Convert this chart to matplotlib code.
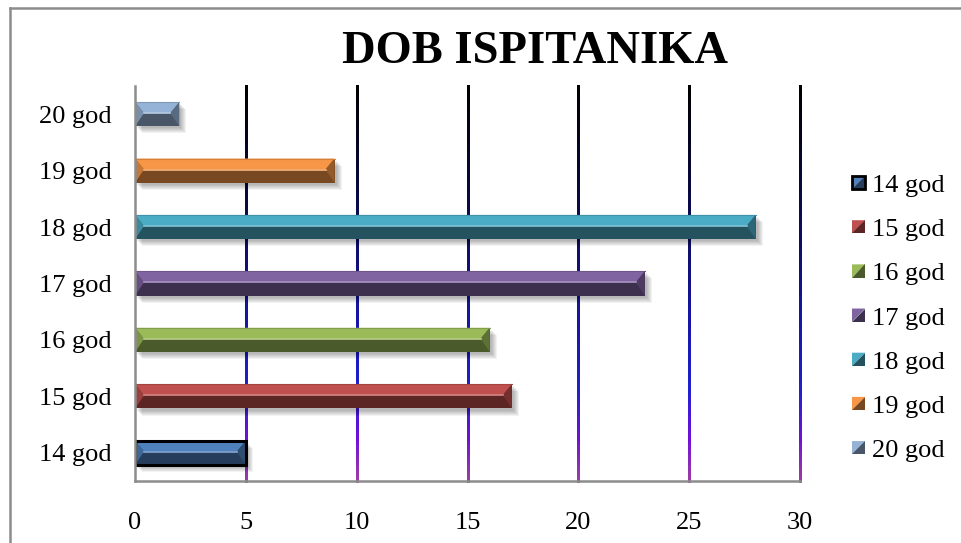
import numpy as np
import matplotlib
matplotlib.use('Agg')
import matplotlib.pyplot as plt
from matplotlib.collections import LineCollection
from matplotlib.patches import Polygon, Rectangle
from matplotlib.legend_handler import HandlerBase
from matplotlib.lines import Line2D
from matplotlib.colors import to_rgb

# Podaci
kategorije = ['14 god', '15 god', '16 god', '17 god', '18 god', '19 god', '20 god']
vrijednosti = [5, 17, 16, 23, 28, 9, 2]
boje = ['#4F81BD', '#C0504D', '#9BBB59', '#8064A2', '#4BACC6', '#F79646', '#95B3D7']
x_ticks = [0, 5, 10, 15, 20, 25, 30]
naslov = 'DOB ISPITANIKA'

plt.rcParams['font.family'] = ['Liberation Serif', 'DejaVu Serif']


def shade(c, f):
    r, g, b = to_rgb(c)
    return (r * f, g * f, b * f)


def lighten(c, f):
    r, g, b = to_rgb(c)
    return (r + (1 - r) * f, g + (1 - g) * f, b + (1 - b) * f)


W, H = 961, 543
fig = plt.figure(figsize=(W / 100, H / 100), dpi=100)
fig.patch.set_facecolor('white')

# okvir grafikona
fig.add_artist(Line2D([9.5 / W, 1.0], [1 - 7.5 / H, 1 - 7.5 / H], color='#8c8c8c', lw=1.8))
fig.add_artist(Line2D([9.5 / W, 9.5 / W], [0, 1 - 7.5 / H], color='#8c8c8c', lw=1.8))

left, right, top, bottom = 135, 800, 86, 481
ax = fig.add_axes([left / W, 1 - bottom / H, (right - left) / W, (bottom - top) / H])
ax.set_xlim(0, 30)
ax.set_ylim(-0.5, 6.5)

# mreza s prijelazom boja (crna -> plava -> ljubicasta)
stops = [(0.0, '#000000'), (0.35, '#0b0b55'), (0.6, '#1616a8'), (0.78, '#2020d0'),
         (0.9, '#7010d8'), (1.0, '#9a3aa8')]
n = 80
ys = np.linspace(6.5, -0.5, n + 1)
fr = np.linspace(0, 1, n)
pos = [s[0] for s in stops]
cols = np.array([to_rgb(s[1]) for s in stops])
seg_cols = np.stack([np.interp(fr, pos, cols[:, k]) for k in range(3)], axis=1)
for xv in x_ticks[1:]:
    segs = [[(xv, ys[i]), (xv, ys[i + 1])] for i in range(n)]
    lc = LineCollection(segs, colors=seg_cols, linewidths=2.0, zorder=1,
                        capstyle='projecting', antialiaseds=False)
    lc.set_clip_on(False)
    ax.add_collection(lc)

# stupci s efektom kosine
h = 0.43
px = 30 / (right - left)
bev = 9 * px
ypos = np.arange(len(kategorije))
for i, (v, c) in enumerate(zip(vrijednosti, boje)):
    y0, y1 = i - h / 2, i + h / 2
    ym = i + 0.02
    # sjena
    for k in range(6):
        off = (2 + k) * px
        ax.add_patch(Rectangle((off, y0 - (2 + k) * 0.018), v, h, color='black',
                               alpha=0.05, lw=0, zorder=2))
    ax.barh(i, v, height=h, color=shade(c, 0.48), lw=0, zorder=3)
    ax.add_patch(Polygon([(0, y1), (v, y1), (v - bev, ym), (bev, ym)],
                         closed=True, color=c, lw=0, zorder=4))
    ax.add_patch(Polygon([(0, y1), (bev, ym), (0, y0)], closed=True,
                         color=shade(c, 0.8), lw=0, zorder=4))
    ax.add_patch(Polygon([(v, y1), (v, y0), (v - bev, ym)], closed=True,
                         color=shade(c, 0.6), lw=0, zorder=4))
    ax.plot([bev, v - bev], [ym, ym], color=lighten(c, 0.3), lw=1.2, zorder=5)
    ax.plot([0, v], [y1, y1], color=shade(c, 0.85), lw=0.8, zorder=5)
    if i == 0:
        ax.add_patch(Rectangle((0, y0), v, h, fill=False, ec='black', lw=2.2, zorder=6))

ax.set_yticks(ypos)
ax.set_yticklabels(kategorije, fontsize=19)
ax.set_xticks(x_ticks)
ax.set_xticklabels([str(t) for t in x_ticks], fontsize=19)
ax.tick_params(axis='y', length=0, pad=17)
ax.tick_params(axis='x', length=0, pad=22)
for s in ['top', 'right']:
    ax.spines[s].set_visible(False)
for s in ['left', 'bottom']:
    ax.spines[s].set_color('#8c8c8c')
    ax.spines[s].set_linewidth(1.8)
    ax.spines[s].set_zorder(7)
ax.set_facecolor('none')

fig.text(535 / W, 1 - 52 / H, naslov, fontsize=33.5, fontweight='bold',
         ha='center', va='center')


class LegendKey(dict):
    pass


class BevelHandler(HandlerBase):
    def create_artists(self, legend, orig_handle, xd, yd, width, height, fontsize, trans):
        c = orig_handle['color']
        s = min(width, height)
        x0, y0 = -xd + (width - s) / 2, -yd + (height - s) / 2
        a = Polygon([(x0, y0 + s), (x0 + s, y0 + s), (x0, y0)], closed=True,
                    color=c, lw=0, transform=trans)
        b = Polygon([(x0 + s, y0 + s), (x0 + s, y0), (x0, y0)], closed=True,
                    color=shade(c, 0.48), lw=0, transform=trans)
        arts = [a, b]
        if orig_handle.get('edge'):
            arts.append(Rectangle((x0, y0), s, s, fill=False, ec='black', lw=2.0,
                                  transform=trans))
        return arts


handles = [LegendKey(color=c, edge=(i == 0)) for i, c in enumerate(boje)]
fig.legend(handles, kategorije, handler_map={LegendKey: BevelHandler()},
           loc='upper left', bbox_to_anchor=(852 / W, 1 - 175 / H), frameon=False,
           fontsize=19, handlelength=0.5, handleheight=0.5, handletextpad=0.25,
           labelspacing=0.84, borderpad=0, borderaxespad=0)

fig.savefig('out.png', dpi=100)
